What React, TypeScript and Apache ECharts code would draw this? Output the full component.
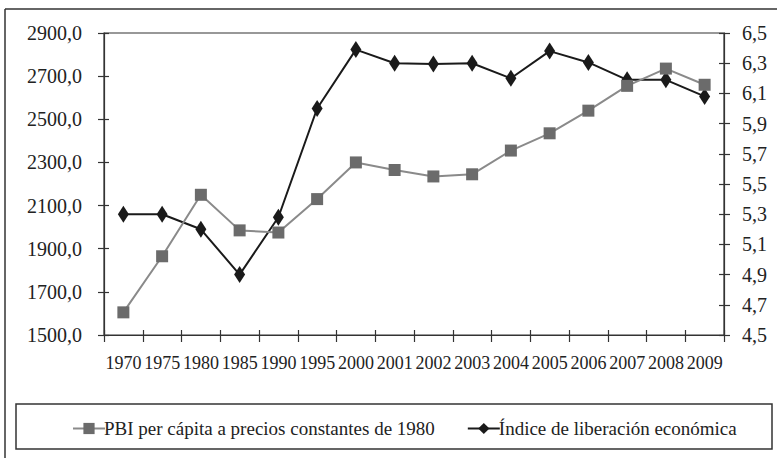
import React, { useEffect, useRef } from "react";
import * as echarts from "echarts";

const years = ["1970", "1975", "1980", "1985", "1990", "1995", "2000", "2001", "2002", "2003", "2004", "2005", "2006", "2007", "2008", "2009"];
const pbi = [1605, 1865, 2150, 1985, 1975, 2130, 2300, 2265, 2235, 2245, 2355, 2435, 2540, 2655, 2735, 2660];
const indice = [5.3, 5.3, 5.2, 4.9, 5.28, 6.0, 6.39, 6.3, 6.295, 6.3, 6.2, 6.38, 6.305, 6.19, 6.19, 6.08];
const pbiName = "PBI per cápita a precios constantes de 1980";
const indiceName = "Índice de liberación económica";

const FONT = "'Liberation Serif', 'Times New Roman', serif";

export default function App() {
  const ref = useRef<HTMLDivElement>(null);
  useEffect(() => {
    if (!ref.current) return;
    const chart = echarts.init(ref.current, undefined, { renderer: "svg" });
    const fmt = (v: number) => v.toFixed(1).replace(".", ",");
    const axisLine = { show: true, lineStyle: { color: "#333", width: 1.2 } };
    chart.setOption({
      animation: false,
      backgroundColor: "#fff",
      textStyle: { fontFamily: FONT },
      grid: {
        left: 104, top: 33, right: 53, bottom: 123,
        show: true, borderColor: "#333", borderWidth: 1.2, backgroundColor: "transparent",
      },
      xAxis: [
        {
          type: "category", data: years, boundaryGap: true, position: "bottom",
          axisLine,
          axisTick: { show: true, length: 7, lineStyle: { color: "#333", width: 1.2 } },
          axisLabel: { color: "#222", fontSize: 18, fontFamily: FONT, margin: 19, interval: 0 },
          splitLine: { show: false },
        },
        {
          type: "category", data: years, boundaryGap: true, position: "bottom",
          axisLine: { show: false },
          axisTick: { show: true, inside: true, length: 5, lineStyle: { color: "#333", width: 1.2 } },
          axisLabel: { show: false },
          splitLine: { show: false },
        },
      ],
      yAxis: [
        {
          type: "value", min: 1500, max: 2900, interval: 200, position: "left",
          axisLine,
          axisTick: { show: true, length: 6, lineStyle: { color: "#333", width: 1.2 } },
          axisLabel: { color: "#222", fontSize: 20, fontFamily: FONT, margin: 22, formatter: fmt },
          splitLine: { show: false },
        },
        {
          type: "value", min: 4.5, max: 6.5, interval: 0.2, position: "right",
          axisLine,
          axisTick: { show: true, length: 6, lineStyle: { color: "#333", width: 1.2 } },
          axisLabel: { color: "#222", fontSize: 20, fontFamily: FONT, margin: 18, formatter: fmt },
          splitLine: { show: false },
        },
        {
          type: "value", min: 1500, max: 2900, interval: 200, position: "left", offset: 0,
          axisLine: { show: false },
          axisTick: { show: true, inside: true, length: 5, lineStyle: { color: "#333", width: 1.2 } },
          axisLabel: { show: false },
          splitLine: { show: false },
        },
        {
          type: "value", min: 4.5, max: 6.5, interval: 0.2, position: "right", offset: 0,
          axisLine: { show: false },
          axisTick: { show: true, inside: true, length: 5, lineStyle: { color: "#333", width: 1.2 } },
          axisLabel: { show: false },
          splitLine: { show: false },
        },
      ],
      legend: {
        left: 67, top: 414, itemWidth: 32, itemHeight: 14, itemGap: 32,
        textStyle: { fontSize: 19, color: "#222", fontFamily: FONT, padding: [0, 0, 0, -6] },
        data: [pbiName, indiceName],
      },
      series: [
        {
          name: indiceName, type: "line", xAxisIndex: 0, yAxisIndex: 1, data: indice,
          symbol: "diamond", symbolSize: [11, 17], z: 2,
          lineStyle: { color: "#1a1a1a", width: 2 },
          itemStyle: { color: "#1a1a1a" },
        },
        {
          name: pbiName, type: "line", xAxisIndex: 0, yAxisIndex: 0, data: pbi,
          symbol: "rect", symbolSize: 12, z: 3,
          lineStyle: { color: "#8a8a8a", width: 2 },
          itemStyle: { color: "#6b6b6b" },
        },
      ],
      graphic: [
        { type: "line", shape: { x1: 5, y1: 9, x2: 777, y2: 9 }, style: { stroke: "#333", lineWidth: 1.5 } },
        { type: "line", shape: { x1: 5, y1: 9, x2: 5, y2: 458 }, style: { stroke: "#333", lineWidth: 1.5 } },
        { type: "rect", shape: { x: 16, y: 404, width: 756, height: 45 }, style: { fill: "none", stroke: "#333", lineWidth: 1.5 }, z: -1 },
      ],
    });
    return () => chart.dispose();
  }, []);
  return <div ref={ref} style={{ position: "absolute", left: 0, top: 0, width: 777, height: 458 }} />;
}
